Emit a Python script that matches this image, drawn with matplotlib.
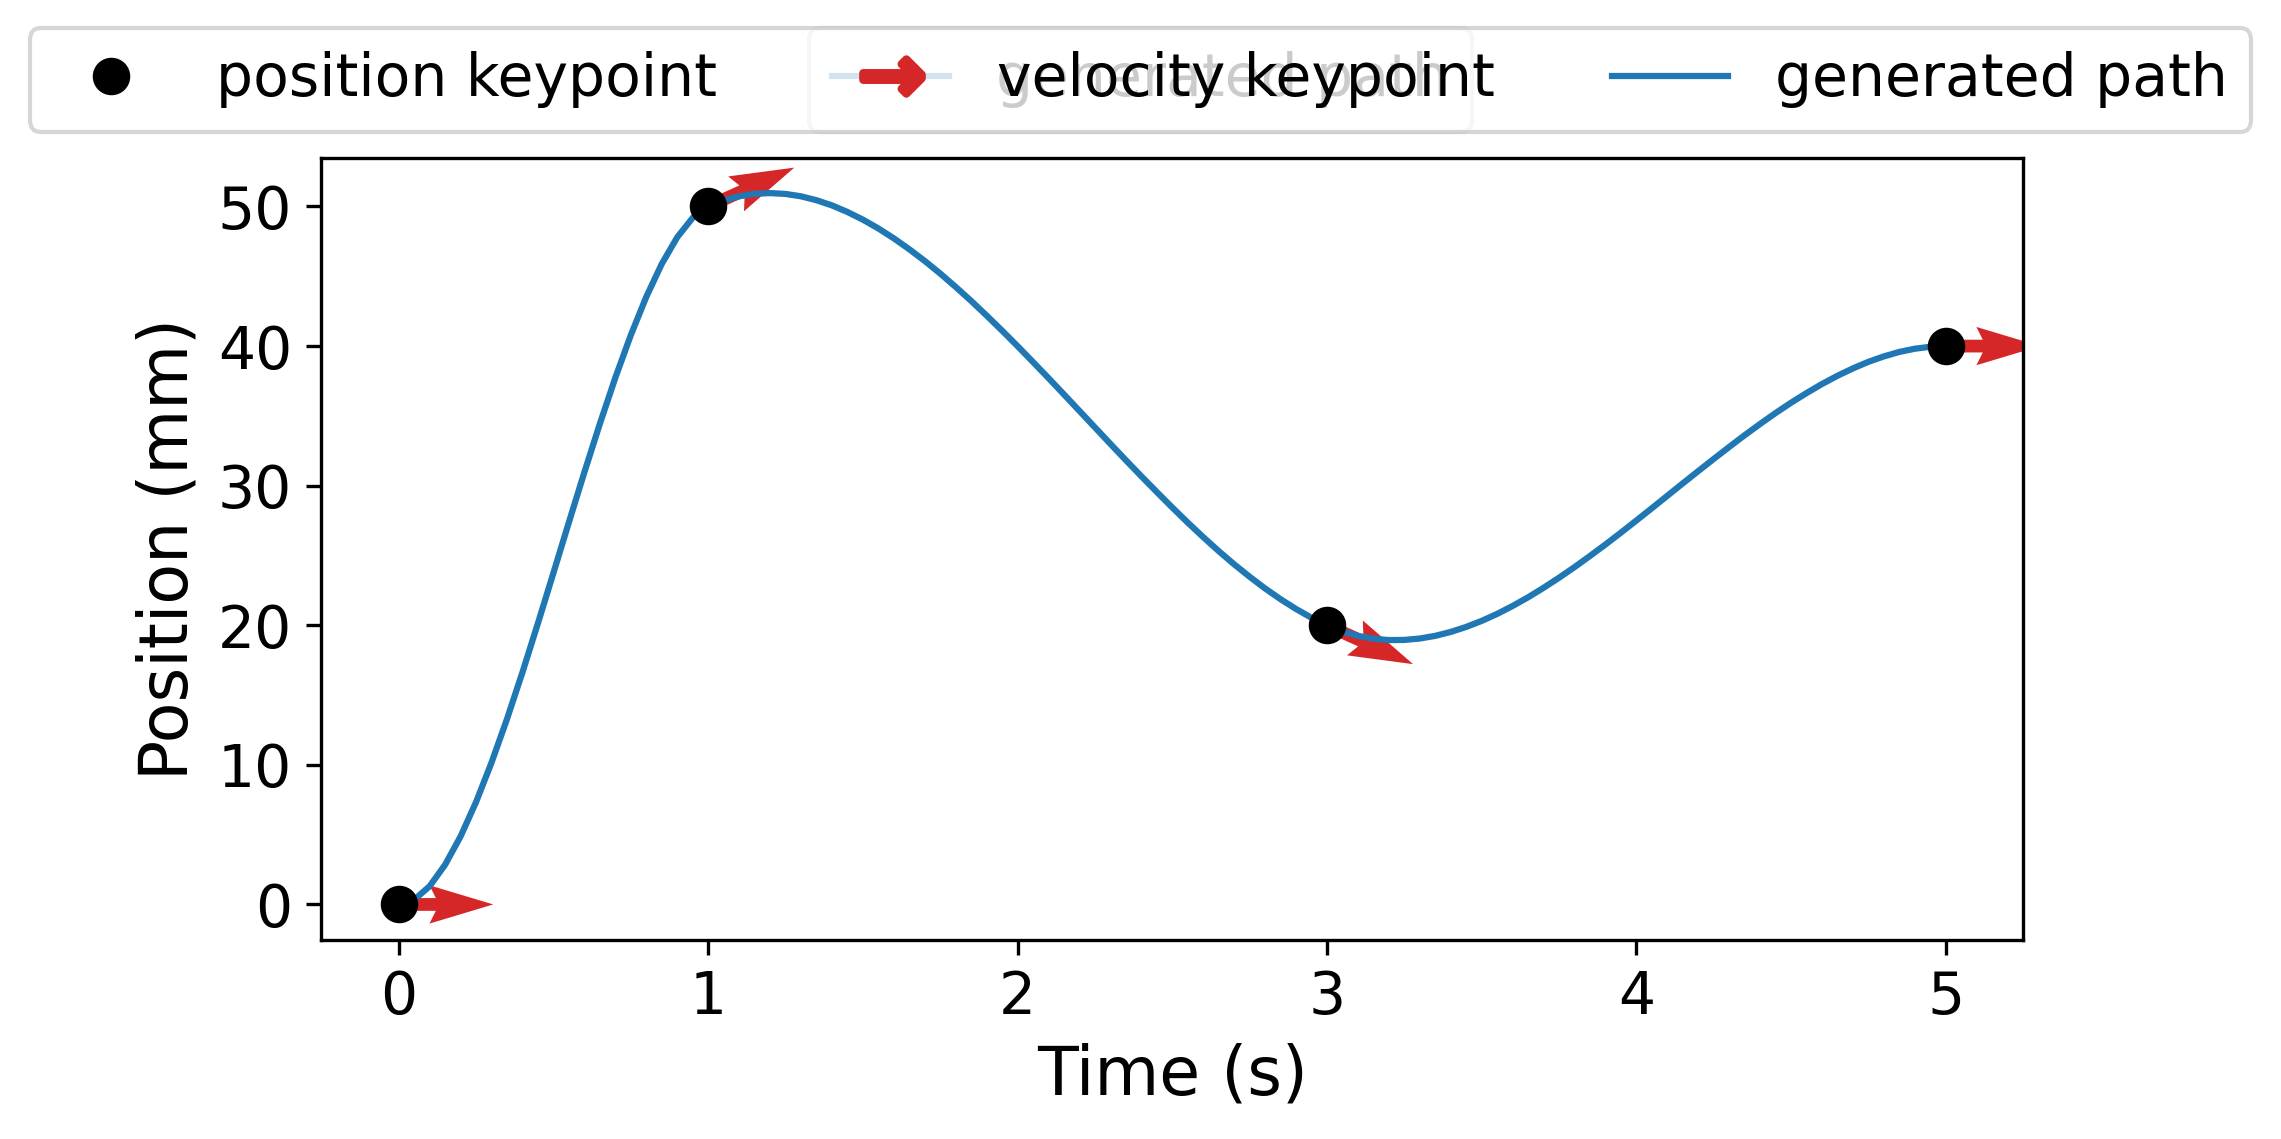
import numpy as np
import matplotlib
matplotlib.use("Agg")
import matplotlib.pyplot as plt
from matplotlib.lines import Line2D

# keypoints
key_t = [0, 1, 3, 5]
key_pos = [0, 50, 20, 40]
key_vel = [0, 10, -10, 0]

# generated path
path_t = [0.00, 0.05, 0.10, 0.15, 0.20, 0.25, 0.30, 0.35, 0.40, 0.45,
          0.50, 0.55, 0.60, 0.65, 0.70, 0.75, 0.80, 0.85, 0.90, 0.95,
          1.00, 1.05, 1.10, 1.15, 1.20, 1.25, 1.30, 1.35, 1.40, 1.45,
          1.50, 1.55, 1.60, 1.65, 1.70, 1.75, 1.80, 1.85, 1.90, 1.95,
          2.00, 2.05, 2.10, 2.15, 2.20, 2.25, 2.30, 2.35, 2.40, 2.45,
          2.50, 2.55, 2.60, 2.65, 2.70, 2.75, 2.80, 2.85, 2.90, 2.95,
          3.00, 3.05, 3.10, 3.15, 3.20, 3.25, 3.30, 3.35, 3.40, 3.45,
          3.50, 3.55, 3.60, 3.65, 3.70, 3.75, 3.80, 3.85, 3.90, 3.95,
          4.00, 4.05, 4.10, 4.15, 4.20, 4.25, 4.30, 4.35, 4.40, 4.45,
          4.50, 4.55, 4.60, 4.65, 4.70, 4.75, 4.80, 4.85, 4.90, 4.95,
          5.00]
path_pos = [0.00, 0.34, 1.31, 2.85, 4.88, 7.34, 10.17, 13.29, 16.64, 20.15,
            23.75, 27.38, 30.96, 34.43, 37.73, 40.78, 43.52, 45.88, 47.79, 49.19,
            50.00, 50.43, 50.73, 50.91, 50.96, 50.90, 50.73, 50.45, 50.08, 49.61,
            49.06, 48.43, 47.72, 46.94, 46.10, 45.20, 44.24, 43.24, 42.19, 41.11,
            40.00, 38.86, 37.71, 36.54, 35.36, 34.18, 33.00, 31.83, 30.68, 29.55,
            28.44, 27.36, 26.32, 25.32, 24.37, 23.48, 22.64, 21.87, 21.17, 20.54,
            20.00, 19.56, 19.24, 19.04, 18.94, 18.95, 19.05, 19.24, 19.52, 19.88,
            20.31, 20.81, 21.38, 22.00, 22.68, 23.40, 24.16, 24.96, 25.78, 26.63,
            27.50, 28.38, 29.27, 30.16, 31.04, 31.91, 32.77, 33.61, 34.42, 35.20,
            35.94, 36.63, 37.28, 37.87, 38.40, 38.87, 39.26, 39.58, 39.81, 39.95,
            40.00]

fig = plt.figure(figsize=(2281 / 300, 1139 / 300), dpi=300)
ax = fig.add_axes([0.1409, 0.1747, 0.8869 - 0.1409, 0.8617 - 0.1747])

# velocity arrows (unit direction in data space)
vel = np.array(key_vel, dtype=float)
norm = np.hypot(1.0, vel)
ax.quiver(key_t, key_pos, 1.0 / norm, vel / norm, angles='xy',
          color='tab:red', zorder=1)

line, = ax.plot(path_t, path_pos, color='tab:blue', zorder=2)
dots, = ax.plot(key_t, key_pos, 'o', color='black', markersize=8,
                linestyle='None', zorder=3)

ax.set_xlabel('Time (s)', fontsize=16)
ax.set_ylabel('Position (mm)', fontsize=16)
ax.tick_params(labelsize=14)

arrow_handle = Line2D([], [], color='tab:red', marker=r'$\rightarrow$',
                      markersize=14, markeredgewidth=2, linestyle='None')

anchor = (0.5, 1 - 28 / 1139)
# first legend ends up under the main one
fig.legend([line], ['generated path'], loc='upper center',
           bbox_to_anchor=anchor, borderaxespad=0, fontsize=14)
fig.legend([dots, arrow_handle, line],
           ['position keypoint', 'velocity keypoint', 'generated path'],
           loc='upper center', bbox_to_anchor=anchor, borderaxespad=0,
           ncol=3, fontsize=14)

fig.savefig('out.png', dpi=300)
